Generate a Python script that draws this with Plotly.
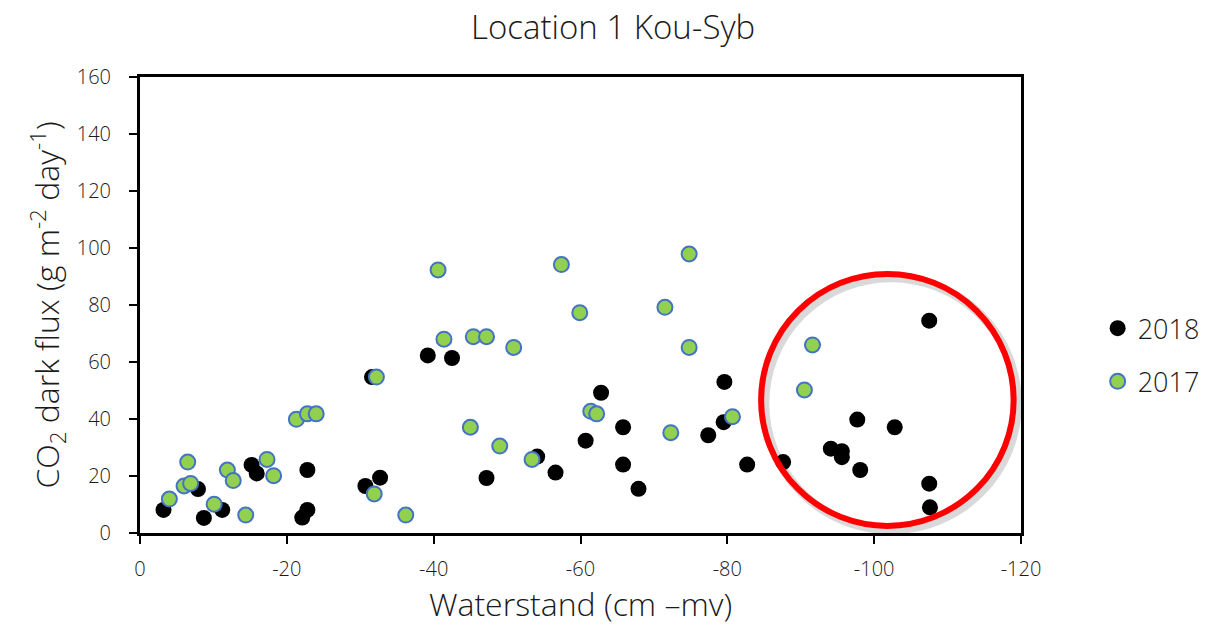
import plotly.graph_objects as go

# ---- data ----
x_2018 = [-3.2, -7.9, -8.7, -11.2, -15.2, -15.9, -22.1, -22.8, -22.8, -30.7, -31.6, -32.7,
          -39.2, -42.5, -47.2, -54.1, -56.6, -60.7, -62.8, -65.8, -65.8, -67.9, -77.4, -79.5,
          -79.6, -82.7, -87.6, -94.1, -95.6, -95.6, -97.7, -98.1, -102.8, -107.5, -107.5, -107.6]
y_2018 = [8.1, 15.4, 5.3, 8.1, 23.9, 20.9, 5.4, 8.1, 22.1, 16.5, 54.7, 19.4,
          62.3, 61.4, 19.3, 26.8, 21.2, 32.4, 49.2, 37.1, 24.0, 15.5, 34.3, 38.9,
          53.0, 24.0, 24.9, 29.6, 28.7, 26.6, 39.8, 22.1, 37.1, 74.5, 17.3, 9.0]

x_2017 = [-4.0, -6.0, -6.5, -6.9, -10.1, -11.9, -12.7, -14.4, -17.3, -18.2, -21.3, -22.8,
          -24.0, -31.9, -32.2, -36.2, -40.6, -41.4, -45.0, -45.4, -47.2, -49.0, -50.9, -53.4,
          -57.4, -59.9, -61.4, -62.2, -71.5, -72.3, -74.8, -74.8, -80.7, -90.5, -91.6]
y_2017 = [11.9, 16.5, 24.9, 17.4, 10.1, 22.1, 18.4, 6.3, 25.8, 20.1, 39.9, 41.8,
          41.8, 13.7, 54.7, 6.3, 92.3, 68.0, 37.1, 68.9, 68.9, 30.5, 65.1, 25.8,
          94.2, 77.3, 42.7, 41.8, 79.2, 35.2, 97.9, 65.1, 40.8, 50.2, 66.0]

x_ticks = [0, -20, -40, -60, -80, -100, -120]
x_tick_labels = ["0", "-20", "-40", "-60", "-80", "-100", "-120"]
y_ticks = [0, 20, 40, 60, 80, 100, 120, 140, 160]

# highlighted region (data coords)
circle_x = [-119.0, -84.6]
circle_y = [2.5, 90.9]

FONT = "Open Sans"
TXT = "#1a1a1a"

fig = go.Figure()
fig.add_trace(go.Scatter(
    x=x_2018, y=y_2018, mode="markers", name="2018", legendgroup="a",
    marker=dict(size=16, color="black", line=dict(width=0)),
))
fig.add_trace(go.Scatter(
    x=x_2017, y=y_2017, mode="markers", name="2017", legendgroup="b",
    marker=dict(size=15, color="#92D050", line=dict(width=2, color="#4472C4")),
))

# shadow + red circle
fig.add_shape(type="circle", xref="x", yref="y",
              x0=circle_x[0] - 0.5, x1=circle_x[1] - 0.5,
              y0=circle_y[0] - 1.3, y1=circle_y[1] - 1.3,
              line=dict(color="rgba(0,0,0,0.15)", width=9), layer="above")
fig.add_shape(type="circle", xref="x", yref="y",
              x0=circle_x[0], x1=circle_x[1], y0=circle_y[0], y1=circle_y[1],
              line=dict(color="#FF0000", width=6), layer="above")

fig.update_layout(
    width=1207, height=636,
    margin=dict(l=140, r=186, t=77, b=103, autoexpand=False),
    paper_bgcolor="white", plot_bgcolor="white",
    font=dict(family=FONT, color=TXT, weight=300),
    title=dict(text="Location 1 Kou-Syb", x=0.508, xanchor="center", y=0.957, yanchor="middle",
               font=dict(size=33, family=FONT, color=TXT, weight=300)),
    showlegend=True,
    legend=dict(x=1.087, xanchor="left", y=0.39, yanchor="middle",
                font=dict(size=27, family=FONT, color=TXT, weight=300),
                tracegroupgap=15, itemsizing="trace"),
    xaxis=dict(
        range=[0, -120], tickvals=x_ticks, ticktext=x_tick_labels,
        showline=True, linecolor="black", linewidth=3, mirror=True,
        ticks="outside", ticklen=8, tickwidth=2, tickcolor="black",
        showgrid=False, zeroline=False, ticklabelstandoff=8, automargin=False,
        tickfont=dict(size=20, family=FONT, color=TXT, weight=300),
        title=dict(text="Waterstand (cm \u2013mv)",
                   font=dict(size=32, family=FONT, color=TXT, weight=300),
                   standoff=12),
    ),
    yaxis=dict(
        range=[0, 160], tickvals=y_ticks,
        showline=True, linecolor="black", linewidth=3, mirror=True,
        ticks="outside", ticklen=8, tickwidth=2, tickcolor="black",
        showgrid=False, zeroline=False, ticklabelstandoff=14, automargin=False,
        tickfont=dict(size=20, family=FONT, color=TXT, weight=300),
        title=dict(text="CO<sub>2</sub> dark flux (g m<sup>-2</sup> day<sup>-1</sup>)",
                   font=dict(size=32, family=FONT, color=TXT, weight=300), standoff=8),
    ),
)

fig.write_html("out.html")
